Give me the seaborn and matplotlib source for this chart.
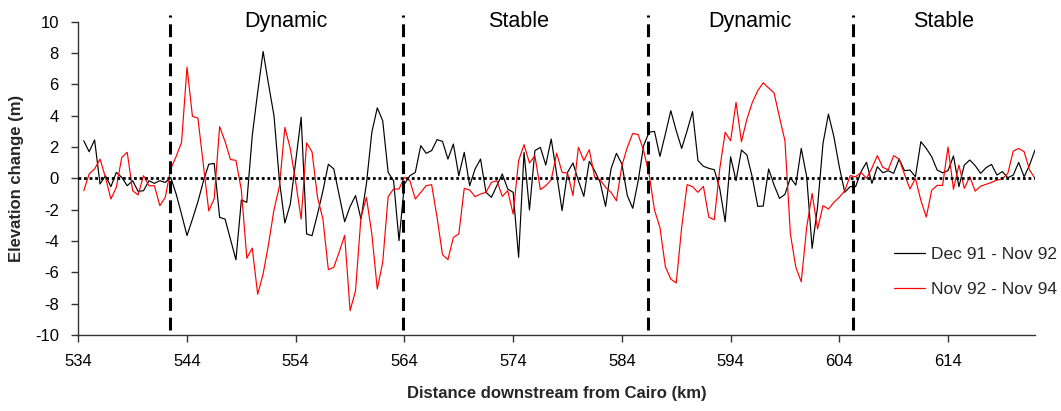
import numpy as np
import pandas as pd
import matplotlib
matplotlib.use("Agg")
import matplotlib.pyplot as plt
from matplotlib.lines import Line2D
import seaborn as sns

# ---------------- data ----------------
# cross-sections every 0.5 km from 534.5 km to 622 km downstream from Cairo
km = np.arange(534.5, 622.01, 0.5)

dec91_nov92 = [
    2.4, 1.7, 2.45, -0.36, 0.17, -0.53, 0.38, 0.06, -0.47, -0.15,
    -0.83, -0.79, -0.15, -0.32, -0.15, -0.26, 0.06, -1.0, -2.3, -3.65,
    -2.6, -1.5, -0.2, 0.9, 0.95, -2.49, -2.6, -3.9, -5.2, -1.38,
    -1.53, 2.72, 5.5, 8.1, 6.0, 4.0, -0.15, -2.85, -1.64, 1.1,
    3.9, -3.55, -3.66, -2.3, -0.8, 0.9, 0.6, -1.1, -2.77, -1.8,
    -1.1, -2.6, -0.36, 2.94, 4.5, 3.68, 0.38, -0.15, -3.98, -0.36,
    0.17, 0.38, 2.09, 1.6, 1.77, 2.47, 2.36, 1.23, 2.19, 0.17,
    1.66, -0.47, 0.6, 1.23, -0.89, -1.21, -0.47, 0.28, -0.68, -0.89,
    -5.04, 1.66, -2.02, 1.77, 1.98, 0.85, 2.51, 0.28, -2.06, 0.38,
    0.98, -0.15, -1.15, 1.09, 0.49, -0.26, -1.79, 0.6, 1.6, 0.91,
    -1.1, -1.91, -0.15, 2.09, 2.94, 3.0, 1.4, 2.83, 4.32, 3.04,
    1.91, 3.04, 4.26, 1.13, 0.77, 0.64, 0.55, -0.64, -2.77, 1.38,
    -0.15, 1.81, 1.49, 0.06, -1.79, -1.77, 0.6, -0.43, -1.28, -1.02,
    0.04, -0.43, 1.91, 0.1, -4.47, -1.81, 2.23, 4.1, 2.66, 0.74,
    -0.89, -0.53, -0.53, 0.43, 1.02, -0.32, 0.74, 0.36, 0.49, 0.32,
    1.23, 0.49, 0.53, 0.1, 2.34, 1.91, 1.38, 0.53, 0.36, 0.49,
    1.43, -0.53, 0.85, 1.17, 0.81, 0.32, 0.68, 0.89, 0.21, 0.43,
    0.04, 0.21, 1.02, 0.1, 0.85, 1.81,
]

nov92_nov94 = [
    -0.79, 0.28, 0.6, 1.23, 0.06, -1.32, -0.57, 1.34, 1.66, -0.79,
    -1.06, 0.17, -0.47, -0.47, -1.74, -1.21, 0.6, 1.4, 2.3, 7.1,
    3.95, 3.85, 0.9, -2.08, -1.3, 3.3, 2.35, 1.2, 1.15, -0.75,
    -5.1, -4.45, -7.4, -6.1, -4.2, -2.0, -0.5, 3.25, 1.9, -0.25,
    -2.6, 2.26, 1.7, -1.2, -2.6, -5.83, -5.68, -4.7, -3.64, -8.45,
    -7.17, -2.49, -1.21, -3.55, -7.06, -5.36, -1.17, -0.68, -0.68, 0.06,
    -0.15, -1.32, -0.89, -0.47, -0.4, -2.49, -4.87, -5.19, -3.77, -3.55,
    -0.64, -0.74, -1.17, -1.0, -0.89, -0.26, -0.15, -1.15, -0.79, -2.28,
    1.13, 2.15, 0.98, 1.45, -0.72, -0.47, -0.09, 1.6, 0.38, 0.34,
    -1.1, 1.98, 1.13, 1.83, 0.06, -0.09, -0.57, -0.89, -1.43, 0.81,
    1.98, 2.87, 2.79, 1.77, 0.28, -2.02, -3.13, -5.64, -6.43, -6.68,
    -3.13, -0.4, -0.53, -0.89, -0.51, -2.49, -2.64, 0.6, 2.94, 2.4,
    4.85, 2.34, 3.79, 4.85, 5.6, 6.1, 5.77, 5.45, 3.89, 2.4,
    -3.55, -5.68, -6.6, -3.13, -0.96, -3.23, -1.74, -1.96, -1.53, -1.21,
    -0.79, 0.17, 0.1, 0.38, 0.0, 0.66, 1.45, 0.7, 0.55, 1.45,
    1.23, 0.25, -0.68, 0.0, -1.4, -2.47, -0.76, -0.45, -0.45, 2.0,
    -0.7, 0.85, -0.64, 0.1, -0.82, -0.5, -0.38, -0.26, -0.11, -0.04,
    0.32, 1.74, 1.91, 1.7, 0.53, 0.0,
]

series_names = ["Dec 91 - Nov 92", "Nov 92 - Nov 94"]
series_colors = ["#000000", "#FF0000"]

x_ticks = [534, 544, 554, 564, 574, 584, 594, 604, 614]
y_ticks = [-10, -8, -6, -4, -2, 0, 2, 4, 6, 8, 10]

reach_bounds = [542.4, 563.9, 586.4, 605.3]
reach_names = ["Dynamic", "Stable", "Dynamic", "Stable"]
reach_label_x = [553.1, 574.5, 595.8, 613.6]

assert len(dec91_nov92) == len(km) and len(nov92_nov94) == len(km)

df = pd.concat([
    pd.DataFrame({"km": km, "change": dec91_nov92, "period": series_names[0]}),
    pd.DataFrame({"km": km, "change": nov92_nov94, "period": series_names[1]}),
])

# ---------------- plot ----------------
sns.set_style("ticks")
plt.rcParams["font.family"] = ["Liberation Sans", "DejaVu Sans"]
plt.rcParams["axes.unicode_minus"] = False

fig = plt.figure(figsize=(10.61, 4.11), dpi=100)
ax = fig.add_axes([78.3 / 1061, 1 - 335 / 411, (1035 - 78.3) / 1061, (335 - 21.7) / 411])

sns.lineplot(data=df, x="km", y="change", hue="period", hue_order=series_names,
             palette=dict(zip(series_names, series_colors)), linewidth=0.85,
             ax=ax, sort=False, estimator=None, legend=False, zorder=3)

# zero reference line
ax.axhline(0, color="black", linestyle=(0, (1, 1)), linewidth=2.0, zorder=4)

# reach boundaries
for xb in reach_bounds:
    ax.plot([xb, xb], [-9.65, 10.4], color="black", linestyle=(0, (4.2, 2.2)),
            linewidth=2.2, clip_on=False, zorder=5)

for xl, name in zip(reach_label_x, reach_names):
    ax.text(xl, 10.0, name, ha="center", va="center", fontsize=15.5, color="black")

ax.set_xlim(534, 622)
ax.set_ylim(-10, 10)
ax.set_xticks(x_ticks)
ax.set_yticks(y_ticks)
ax.tick_params(axis="both", direction="out", length=5, width=1, colors="#333333",
               labelcolor="black", labelsize=12)
ax.tick_params(axis="x", pad=9)
ax.tick_params(axis="y", pad=9)

for s in ["top", "right"]:
    ax.spines[s].set_visible(False)
for s in ["left", "bottom"]:
    ax.spines[s].set_color("#333333")
    ax.spines[s].set_linewidth(1)

ax.set_xlabel("Distance downstream from Cairo (km)", fontsize=12, fontweight="bold", labelpad=12)
ax.set_ylabel("Elevation change (m)", fontsize=12, fontweight="bold", labelpad=8)

handles = [Line2D([], [], color=c, linewidth=0.9) for c in series_colors]
ax.legend(handles, series_names, frameon=False, fontsize=12.5, loc="upper left",
          bbox_to_anchor=(894 / 1061, 1 - 247 / 411), bbox_transform=fig.transFigure,
          borderaxespad=0, borderpad=0, handlelength=1.8, handletextpad=0.35,
          labelspacing=1.15)

fig.savefig("out.png", dpi=100)
